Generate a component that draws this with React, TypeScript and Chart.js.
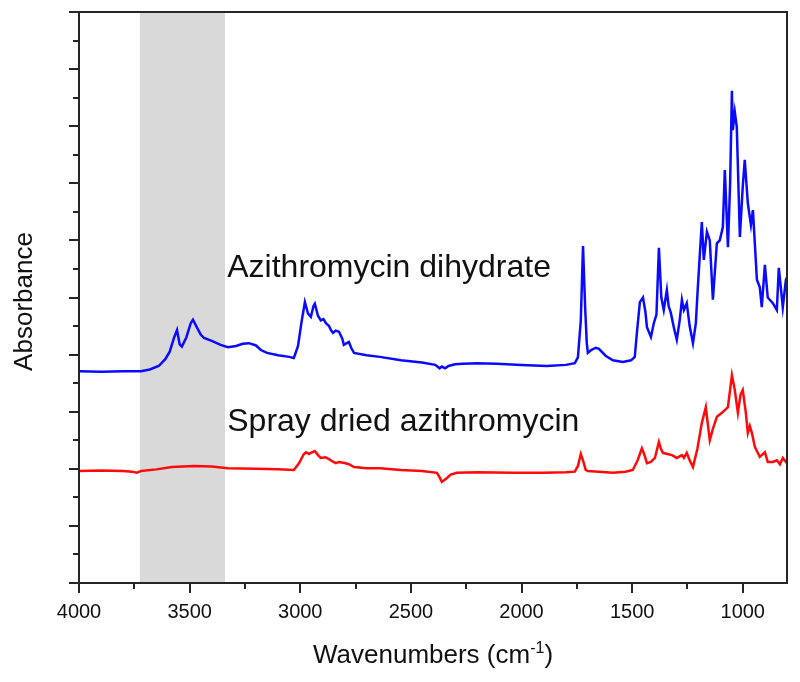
import React, { useEffect, useRef } from "react";
import { Chart, registerables } from "chart.js";
Chart.register(...registerables);

const FONT = "'Liberation Sans', Arial, Helvetica, sans-serif";

// Azithromycin dihydrate (blue)
const DIHYDRATE_WN = [
  4000, 3900, 3800, 3720, 3680, 3640, 3610, 3590, 3570, 3557, 3545, 3535, 3515, 3495, 3485, 3470, 3450, 3435, 3400, 3360,
  3327, 3290, 3260, 3232, 3200, 3178, 3150, 3100, 3050, 3029, 3010, 2995, 2979, 2965, 2952, 2940, 2934, 2920, 2907, 2895,
  2884, 2870, 2860, 2852, 2840, 2825, 2810, 2803, 2790, 2780, 2770, 2757, 2700, 2640, 2545, 2450, 2390, 2370, 2360, 2345,
  2330, 2300, 2265, 2200, 2111, 2000, 1885, 1800, 1759, 1745, 1732, 1722, 1712, 1705, 1700, 1685, 1665, 1650, 1620, 1587,
  1542, 1505, 1488, 1478, 1465, 1451, 1440, 1433, 1415, 1402, 1390, 1379, 1368, 1357, 1343, 1335, 1325, 1310, 1298, 1285,
  1275, 1266, 1253, 1240, 1225, 1212, 1203, 1185, 1176, 1162, 1149, 1135, 1117, 1104, 1090, 1081, 1067, 1057, 1049, 1045,
  1036, 1027, 1013, 1000, 991, 977, 963, 954, 936, 923, 914, 900, 887, 864, 846, 837, 819, 805, 800,
];
const DIHYDRATE_ABS = [
  3.71, 3.7, 3.71, 3.71, 3.74, 3.8, 3.92, 4.05, 4.3, 4.43, 4.18, 4.14, 4.3, 4.55, 4.61, 4.5, 4.35, 4.29, 4.24, 4.17,
  4.13, 4.15, 4.19, 4.2, 4.16, 4.08, 4.03, 3.99, 3.96, 3.94, 4.15, 4.55, 4.92, 4.72, 4.66, 4.85, 4.89, 4.68, 4.6, 4.62,
  4.55, 4.5, 4.42, 4.38, 4.42, 4.4, 4.28, 4.17, 4.2, 4.22, 4.12, 4.03, 3.99, 3.96, 3.9, 3.86, 3.82, 3.76, 3.79, 3.76,
  3.8, 3.83, 3.84, 3.85, 3.84, 3.82, 3.8, 3.82, 3.85, 3.95, 4.6, 5.9, 4.8, 4.2, 4.03, 4.08, 4.12, 4.1, 3.98, 3.9,
  3.87, 3.9, 3.96, 4.4, 4.92, 5.0, 4.75, 4.48, 4.31, 4.55, 4.7, 5.87, 5.0, 4.78, 5.13, 4.85, 4.73, 4.45, 4.26, 4.6,
  4.96, 4.78, 4.9, 4.5, 4.2, 4.55, 5.18, 6.32, 5.66, 6.15, 6.0, 4.96, 5.95, 6.0, 6.23, 7.23, 5.88, 7.0, 8.62, 7.93,
  8.25, 7.99, 6.06, 6.94, 7.41, 6.65, 6.27, 6.53, 5.31, 5.18, 4.83, 5.57, 5.0, 4.9, 4.78, 5.52, 4.83, 5.31, 5.35,
];

// Spray dried azithromycin (red)
const SPRAY_WN = [
  4000, 3900, 3800, 3760, 3740, 3720, 3650, 3580, 3480, 3400, 3327, 3200, 3100, 3029, 3005, 2985, 2974, 2960, 2952, 2934,
  2920, 2907, 2885, 2870, 2850, 2839, 2825, 2800, 2780, 2757, 2700, 2640, 2545, 2450, 2382, 2370, 2360, 2350, 2337, 2320,
  2292, 2200, 2039, 1900, 1800, 1759, 1745, 1732, 1720, 1710, 1700, 1650, 1587, 1530, 1497, 1475, 1456, 1445, 1433, 1415,
  1397, 1379, 1370, 1361, 1340, 1320, 1298, 1275, 1266, 1253, 1240, 1225, 1205, 1185, 1167, 1160, 1149, 1135, 1117, 1094,
  1067, 1049, 1036, 1022, 1010, 1000, 986, 977, 968, 959, 945, 923, 900, 887, 864, 846, 832, 819, 805, 800,
];
const SPRAY_ABS = [
  1.96, 1.97, 1.96, 1.95, 1.93, 1.96, 1.99, 2.03, 2.05, 2.04, 2.01, 2.0, 1.99, 1.98, 2.1, 2.25, 2.29, 2.26, 2.28, 2.31,
  2.24, 2.19, 2.2, 2.17, 2.12, 2.1, 2.12, 2.1, 2.08, 2.03, 2.01, 2.01, 1.98, 1.96, 1.93, 1.85, 1.77, 1.8, 1.84, 1.9,
  1.93, 1.94, 1.93, 1.93, 1.94, 1.95, 2.05, 2.26, 2.12, 1.98, 1.96, 1.95, 1.93, 1.95, 1.98, 2.15, 2.36, 2.25, 2.1, 2.12,
  2.19, 2.47, 2.35, 2.28, 2.26, 2.24, 2.19, 2.24, 2.19, 2.28, 2.15, 2.03, 2.35, 2.8, 3.08, 2.85, 2.5, 2.7, 2.91, 2.98,
  3.08, 3.64, 3.38, 2.98, 3.3, 3.38, 2.98, 2.63, 2.75, 2.63, 2.38, 2.21, 2.29, 2.12, 2.12, 2.15, 2.08, 2.19, 2.12, 2.15,
];

const X_MAJOR_TICKS = [4000, 3500, 3000, 2500, 2000, 1500, 1000];
const X_MINOR_TICKS = [3750, 3250, 2750, 2250, 1750, 1250];
const Y_MAJOR_TICKS = [0, 1, 2, 3, 4, 5, 6, 7, 8, 9, 10];
const Y_MINOR_TICKS = [0.5, 1.5, 2.5, 3.5, 4.5, 5.5, 6.5, 7.5, 8.5, 9.5];
const SHADED_BAND = [3725, 3340];

const X_TITLE = "Wavenumbers (cm";
const X_TITLE_SUP = "-1";
const X_TITLE_END = ")";
const Y_TITLE = "Absorbance";
const SERIES_LABELS = ["Azithromycin dihydrate", "Spray dried azithromycin"];
const LABEL_WN = [3330, 3330];
const LABEL_ABS = [5.36, 2.66];

const decorPlugin = {
  id: "decor",
  beforeDatasetsDraw(chart: any) {
    const { ctx, chartArea: a, scales } = chart;
    const x1 = scales.x.getPixelForValue(SHADED_BAND[0]);
    const x2 = scales.x.getPixelForValue(SHADED_BAND[1]);
    ctx.save();
    ctx.fillStyle = "#d9d9d9";
    ctx.fillRect(Math.min(x1, x2), a.top, Math.abs(x2 - x1), a.bottom - a.top);
    ctx.restore();
  },
  afterDatasetsDraw(chart: any) {
    const { ctx, chartArea: a, scales } = chart;
    const xs = scales.x;
    const ys = scales.y;
    ctx.save();
    ctx.strokeStyle = "#262626";
    ctx.lineWidth = 2;
    ctx.strokeRect(a.left, a.top, a.right - a.left, a.bottom - a.top);
    ctx.beginPath();
    X_MAJOR_TICKS.forEach((v) => {
      const p = Math.round(xs.getPixelForValue(v));
      ctx.moveTo(p, a.bottom);
      ctx.lineTo(p, a.bottom + 10);
    });
    X_MINOR_TICKS.forEach((v) => {
      const p = Math.round(xs.getPixelForValue(v));
      ctx.moveTo(p, a.bottom);
      ctx.lineTo(p, a.bottom + 6);
    });
    Y_MAJOR_TICKS.forEach((v) => {
      const p = Math.round(ys.getPixelForValue(v));
      ctx.moveTo(a.left, p);
      ctx.lineTo(a.left - 10, p);
    });
    Y_MINOR_TICKS.forEach((v) => {
      const p = Math.round(ys.getPixelForValue(v));
      ctx.moveTo(a.left, p);
      ctx.lineTo(a.left - 6, p);
    });
    ctx.stroke();

    // series annotations
    ctx.fillStyle = "#111";
    ctx.font = `32px ${FONT}`;
    ctx.textAlign = "left";
    ctx.textBaseline = "alphabetic";
    SERIES_LABELS.forEach((t, i) => {
      ctx.fillText(t, xs.getPixelForValue(LABEL_WN[i]), ys.getPixelForValue(LABEL_ABS[i]));
    });

    // x title
    const mainFont = `26px ${FONT}`;
    const supFont = `16px ${FONT}`;
    ctx.font = mainFont;
    const w1 = ctx.measureText(X_TITLE).width;
    const w3 = ctx.measureText(X_TITLE_END).width;
    ctx.font = supFont;
    const w2 = ctx.measureText(X_TITLE_SUP).width;
    const total = w1 + w2 + w3;
    const cx = (a.left + a.right) / 2;
    const base = 663;
    let sx = cx - total / 2;
    ctx.font = mainFont;
    ctx.fillText(X_TITLE, sx, base);
    sx += w1;
    ctx.font = supFont;
    ctx.fillText(X_TITLE_SUP, sx, base - 10);
    sx += w2;
    ctx.font = mainFont;
    ctx.fillText(X_TITLE_END, sx, base);

    // y title
    ctx.translate(25, (a.top + a.bottom) / 2 + 4);
    ctx.rotate(-Math.PI / 2);
    ctx.textAlign = "center";
    ctx.textBaseline = "middle";
    ctx.font = `26px ${FONT}`;
    ctx.fillText(Y_TITLE, 0, 0);
    ctx.restore();
  },
};

export default function App() {
  const ref = useRef<HTMLCanvasElement | null>(null);
  useEffect(() => {
    if (!ref.current) return;
    const chart = new Chart(ref.current, {
      type: "line",
      data: {
        datasets: [
          {
            label: SERIES_LABELS[0],
            data: DIHYDRATE_WN.map((x, i) => ({ x, y: DIHYDRATE_ABS[i] })),
            borderColor: "#0a0aff",
            borderWidth: 2.5,
            pointRadius: 0,
            tension: 0,
          },
          {
            label: SERIES_LABELS[1],
            data: SPRAY_WN.map((x, i) => ({ x, y: SPRAY_ABS[i] })),
            borderColor: "#ff0a0a",
            borderWidth: 2.5,
            pointRadius: 0,
            tension: 0,
          },
        ],
      },
      options: {
        animation: false,
        responsive: false,
        devicePixelRatio: 1,
        layout: { padding: { top: 12, right: 13, left: 0, bottom: 0 } },
        plugins: { legend: { display: false }, tooltip: { enabled: false } },
        scales: {
          x: {
            type: "linear",
            min: 800,
            max: 4000,
            reverse: true,
            afterBuildTicks: (s: any) => {
              s.ticks = X_MAJOR_TICKS.map((v) => ({ value: v }));
            },
            afterFit: (s: any) => {
              s.height = 99;
            },
            grid: { display: false, drawTicks: false },
            border: { display: false },
            ticks: {
              autoSkip: false,
              maxRotation: 0,
              padding: 17,
              color: "#111",
              font: { family: FONT, size: 20 },
              callback: (v: any) => String(v),
            },
          },
          y: {
            type: "linear",
            min: 0,
            max: 10,
            afterFit: (s: any) => {
              s.width = 79;
            },
            grid: { display: false, drawTicks: false },
            border: { display: false },
            ticks: { display: false },
          },
        },
      },
      plugins: [decorPlugin],
    } as any);
    return () => chart.destroy();
  }, []);
  return (
    <div style={{ position: "fixed", left: 0, top: 0, width: 800, height: 682, background: "#fff" }}>
      <canvas ref={ref} width={800} height={682} />
    </div>
  );
}
